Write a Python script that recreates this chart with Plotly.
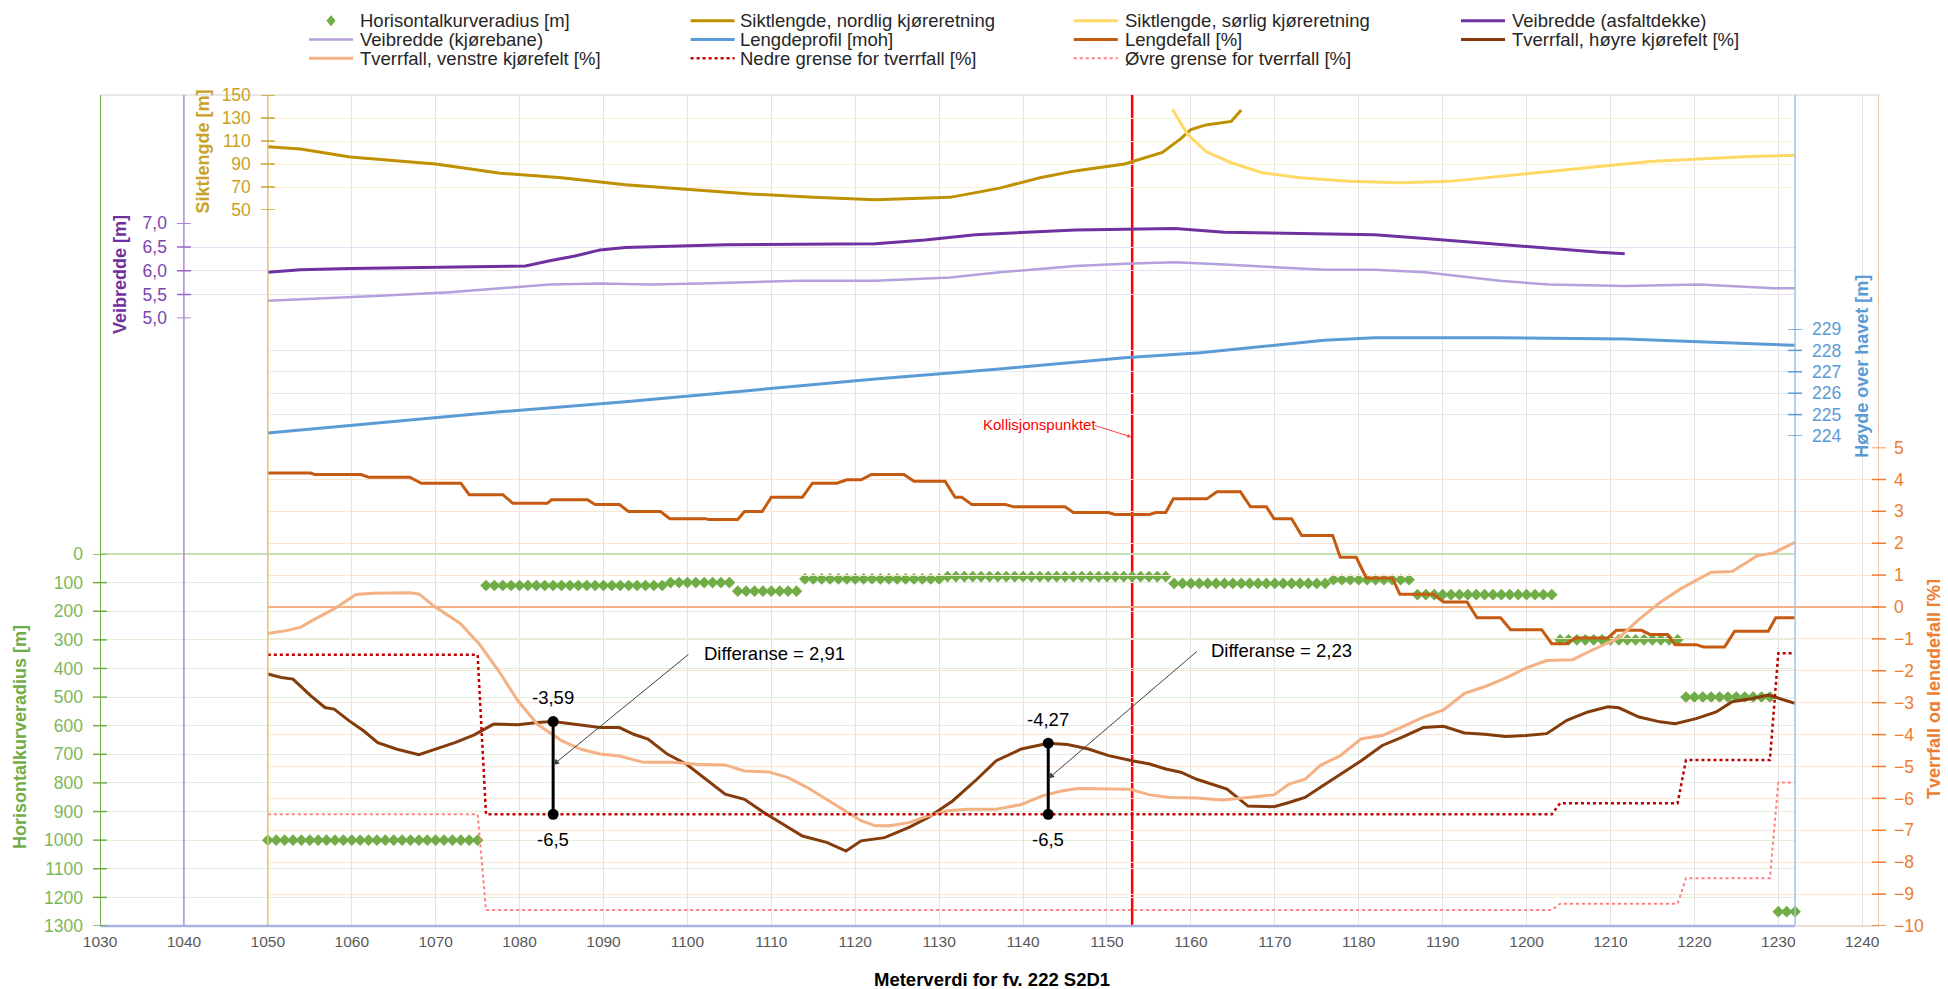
import plotly.graph_objects as go

# ---------------- data ----------------
# Siktlengde (m) - nordlig / sørlig kjøreretning
sikt_n_x = [1050, 1053.9, 1059.8, 1065, 1070, 1077.7, 1085, 1092.6, 1100, 1107.5, 1115, 1122.4, 1131.3, 1137.2, 1142, 1146.2, 1152.1, 1156.6, 1158.8, 1160, 1161.8, 1164.8, 1166]
sikt_n_y = [105, 103, 96, 93, 90, 82, 78, 72, 68, 64, 61, 59, 61, 69, 78, 84, 90, 100, 112, 120, 124, 127, 137]
sikt_s_x = [1157.8, 1159.6, 1161.8, 1164.8, 1168.5, 1173, 1178.9, 1184.9, 1190.8, 1196.8, 1202.7, 1208.7, 1214.7, 1220.6, 1226.6, 1232]
sikt_s_y = [137.5, 115.9, 100.8, 91.1, 82.4, 78.1, 74.9, 73.8, 74.9, 79.2, 83.5, 87.8, 92.2, 94.3, 96.5, 97.6]

# Veibredde (m)
asfalt_x = [1050, 1053.9, 1059.8, 1080.7, 1083.6, 1086.6, 1089.6, 1092.6, 1104.5, 1122.4, 1128.3, 1134.3, 1146.2, 1158.1, 1164, 1181.9, 1187.9, 1196.8, 1202.7, 1208.7, 1211.7]
asfalt_y = [5.97, 6.02, 6.05, 6.10, 6.21, 6.31, 6.44, 6.49, 6.55, 6.57, 6.65, 6.76, 6.86, 6.89, 6.81, 6.76, 6.68, 6.55, 6.47, 6.39, 6.36]
kjorebane_x = [1050, 1056.8, 1062.8, 1071.7, 1077.7, 1083.6, 1089.6, 1095.6, 1101.5, 1107.5, 1113.4, 1122.4, 1131.3, 1137.2, 1146.2, 1152.1, 1158.1, 1164, 1170, 1175.9, 1181.9, 1187.9, 1196.8, 1202.7, 1211.7, 1220.6, 1229.5, 1232]
kjorebane_y = [5.37, 5.42, 5.47, 5.55, 5.63, 5.71, 5.73, 5.71, 5.73, 5.76, 5.79, 5.79, 5.86, 5.97, 6.10, 6.15, 6.18, 6.13, 6.07, 6.02, 6.02, 5.97, 5.79, 5.71, 5.68, 5.71, 5.63, 5.63]

# Lengdeprofil (moh)
profil_x = [1050, 1062.8, 1077.7, 1092.6, 1107.5, 1122.4, 1137.2, 1152.1, 1161.1, 1167, 1175.9, 1181.9, 1196.8, 1211.7, 1219.1, 1226.6, 1232]
profil_y = [224.14, 224.61, 225.13, 225.60, 226.13, 226.66, 227.13, 227.66, 227.89, 228.12, 228.47, 228.59, 228.59, 228.53, 228.42, 228.30, 228.24]

# Lengdefall (%)
lengdefall_x = [1050, 1055.1, 1055.6, 1061.1, 1062, 1066.9, 1068.3, 1073, 1074, 1078, 1079.2, 1083.3, 1083.8, 1088.1,
                1089, 1091.9, 1093, 1096.8, 1097.9, 1102.2, 1102.5, 1106, 1106.8, 1108.9, 1110, 1113.7, 1114.9, 1117.8,
                1119, 1120.7, 1121.9, 1125.8, 1127, 1130.7, 1131.9, 1132.7, 1133.9, 1137.9, 1138.9, 1145, 1146, 1150.2,
                1150.9, 1155.1, 1155.8, 1157, 1157.9, 1161.9, 1163.1, 1165.9, 1167.1, 1169, 1169.9, 1172, 1173.2, 1176.9,
                1177.8, 1179.7, 1180.9, 1184, 1184.9, 1188.9, 1190.1, 1192.9, 1194.1, 1196.9, 1198.1, 1201.8, 1203, 1204.8,
                1205.8, 1209.7, 1210.7, 1213.7, 1214.7, 1216.8, 1217.7, 1220.2, 1221.1, 1223.6, 1224.8, 1228.8, 1229.7, 1232]
lengdefall_y = [4.2, 4.2, 4.15, 4.15, 4.07, 4.07, 3.88, 3.88, 3.52, 3.52, 3.25, 3.25, 3.36, 3.36,
                3.21, 3.21, 2.99, 2.99, 2.77, 2.77, 2.74, 2.74, 2.99, 2.99, 3.44, 3.44, 3.88, 3.88,
                3.99, 3.99, 4.15, 4.15, 3.94, 3.94, 3.44, 3.44, 3.21, 3.21, 3.14, 3.14, 2.96, 2.96,
                2.9, 2.9, 2.96, 2.96, 3.39, 3.39, 3.61, 3.61, 3.14, 3.14, 2.77, 2.77, 2.24, 2.24,
                1.56, 1.56, 0.91, 0.91, 0.4, 0.4, 0.16, 0.16, -0.34, -0.34, -0.71, -0.71, -1.15, -1.15,
                -0.97, -0.97, -0.73, -0.73, -0.86, -0.86, -1.18, -1.18, -1.25, -1.25, -0.76, -0.76, -0.34, -0.34]

# Tverrfall (%)
hoyre_x = [1050, 1051.6, 1053, 1055.1, 1056.8, 1057.9, 1059.7, 1061.4, 1063.1, 1065.4, 1068, 1070, 1072.3, 1074.6,
           1076.9, 1079.8, 1082.1, 1084, 1086.1, 1089.6, 1091.9, 1093.6, 1095.3, 1097.6, 1099.9, 1102.2, 1104.5,
           1106.8, 1109.1, 1111.4, 1113.7, 1116.6, 1118.9, 1120.7, 1123.5, 1126.4, 1128.7, 1131.6, 1134.5, 1136.8,
           1139.8, 1143, 1145.3, 1147.8, 1150.2, 1153, 1155.1, 1157, 1158.8, 1160.7, 1162.5, 1164.3, 1166.8, 1169.9,
           1171.7, 1173.6, 1175.4, 1177.8, 1180.3, 1182.8, 1185.2, 1187.7, 1190.1, 1192.6, 1195, 1197.5, 1199.9,
           1202.4, 1204.8, 1207.3, 1209.7, 1211, 1213.4, 1215.9, 1217.7, 1220.2, 1222.6, 1224.5, 1226.9, 1228.8,
           1230.6, 1232]
hoyre_y = [-2.10, -2.21, -2.26, -2.78, -3.15, -3.20, -3.57, -3.88, -4.25, -4.46, -4.63, -4.46, -4.25, -4.01,
           -3.67, -3.69, -3.62, -3.59, -3.67, -3.78, -3.78, -3.99, -4.14, -4.61, -4.93, -5.40, -5.87,
           -6.03, -6.44, -6.81, -7.18, -7.38, -7.65, -7.33, -7.23, -6.91, -6.60, -6.08, -5.40, -4.82,
           -4.45, -4.27, -4.31, -4.45, -4.66, -4.82, -4.92, -5.08, -5.18, -5.40, -5.55, -5.71, -6.24, -6.26,
           -6.13, -5.97, -5.66, -5.24, -4.82, -4.34, -4.08, -3.78, -3.74, -3.95, -3.99, -4.06, -4.03,
           -3.97, -3.55, -3.29, -3.13, -3.16, -3.45, -3.60, -3.66, -3.50, -3.29, -2.97, -2.87, -2.76,
           -2.92, -3.02]
venstre_x = [1050, 1052.2, 1053.9, 1055.6, 1057.9, 1060.5, 1062.5, 1064.8, 1066.9, 1068, 1070, 1072.9, 1075.2,
             1077.5, 1079.8, 1082.1, 1085, 1087.3, 1089.6, 1091.9, 1094.8, 1098.2, 1101.1, 1104.5, 1106.8, 1109.7,
             1112, 1114.3, 1116.6, 1118.9, 1120.7, 1122.4, 1124.1, 1126.4, 1128.7, 1131, 1133.3, 1136.8, 1139.8,
             1142.3, 1144.7, 1146.6, 1149.6, 1152.7, 1155.1, 1157.6, 1160.7, 1163.7, 1166.8, 1169.9, 1171.7, 1173.6,
             1175.4, 1177.8, 1180.3, 1182.8, 1185.2, 1187.7, 1190.1, 1192.6, 1195, 1197.5, 1199.9, 1202.4, 1205.5,
             1207.9, 1211, 1213.4, 1215.9, 1218.3, 1222, 1224.5, 1227.5, 1229.4, 1232]
venstre_y = [-0.83, -0.74, -0.64, -0.38, -0.06, 0.39, 0.43, 0.44, 0.45, 0.41, -0.01, -0.51, -1.16,
             -2.0, -2.94, -3.67, -4.19, -4.46, -4.61, -4.67, -4.87, -4.87, -4.93, -4.95, -5.14, -5.17,
             -5.35, -5.66, -6.03, -6.39, -6.70, -6.86, -6.86, -6.76, -6.55, -6.39, -6.34, -6.34, -6.19,
             -5.92, -5.76, -5.69, -5.69, -5.71, -5.89, -5.97, -5.99, -6.05, -5.97, -5.89, -5.55, -5.40,
             -4.97, -4.66, -4.13, -4.03, -3.76, -3.45, -3.23, -2.71, -2.50, -2.23, -1.92, -1.68, -1.65,
             -1.34, -0.97, -0.39, 0.14, 0.56, 1.09, 1.11, 1.61, 1.69, 2.03]

# Grenser for tverrfall (%)
grense_x = [1050, 1075, 1076, 1203, 1204, 1218, 1219, 1229, 1230, 1232]
nedre_y = [-1.5, -1.5, -6.5, -6.5, -6.15, -6.15, -4.8, -4.8, -1.45, -1.45]
ovre_y = [-6.5, -6.5, -9.5, -9.5, -9.3, -9.3, -8.5, -8.5, -5.5, -5.5]

# Horisontalkurveradius (m): groups of one value per metre
radius_start = [1050, 1076, 1098, 1106, 1114, 1131, 1158, 1177, 1187, 1204, 1219, 1230]
radius_end = [1075, 1097, 1105, 1113, 1130, 1157, 1176, 1186, 1203, 1218, 1229, 1232]
radius_val = [1000, 110, 100, 130, 87, 79, 103, 90, 142, 300, 500, 1250]

# Differanse markers
diff_x = [1084, 1143]
diff_top = [-3.59, -4.27]
diff_bottom = [-6.5, -6.5]
diff_labels_top = ["-3,59", "-4,27"]
diff_labels_bottom = ["-6,5", "-6,5"]
diff_text = ["Differanse = 2,91", "Differanse = 2,23"]

kollisjon_x = 1153

# axis ticks
x_ticks = list(range(1030, 1241, 10))
radius_ticks = list(range(0, 1301, 100))
veibredde_ticks = [5.0, 5.5, 6.0, 6.5, 7.0]
veibredde_ticktext = ["5,0", "5,5", "6,0", "6,5", "7,0"]
sikt_ticks = [50, 70, 90, 110, 130, 150]
hoyde_ticks = [224, 225, 226, 227, 228, 229]
tverr_ticks = list(range(-10, 6))

# ---------------- layout helpers ----------------
X0, X1, XB = 1030, 1242, 1232
def frac(v):
    return (v - X0) / (X1 - X0)

# screen geometry (page body has an 8 px margin)
PL, PR, PT, PB = 100, 1879, 95, 926
PW, PH = PR - PL, PB - PT
def px(sx):
    return (sx - PL) / PW
def py(sy):
    return (PB - sy) / PH

GREEN = "#70AD47"
PURPLE = "#7030A0"
GOLD = "#BF9000"
BLUE = "#5B9BD5"
ORANGE = "#ED7D31"
FONT = "Liberation Sans, Arial, sans-serif"

series_style = {
    "Horisontalkurveradius [m]": dict(color=GREEN),
    "Siktlengde, nordlig kjøreretning": dict(color=GOLD, width=3),
    "Siktlengde, sørlig kjøreretning": dict(color="#FFD966", width=3),
    "Veibredde (asfaltdekke)": dict(color=PURPLE, width=3),
    "Veibredde (kjørebane)": dict(color="#B4A0DC", width=2.5),
    "Lengdeprofil [moh]": dict(color=BLUE, width=3),
    "Lengdefall [%]": dict(color="#C55A11", width=3),
    "Tverrfall, høyre kjørefelt [%]": dict(color="#843C0C", width=3),
    "Tverrfall, venstre kjørefelt [%]": dict(color="#F4B183", width=3),
    "Nedre grense for tverrfall [%]": dict(color="#C00000", width=2.5, dash="dot"),
    "Øvre grense for tverrfall [%]": dict(color="#FF8080", width=2, dash="dot"),
}
legend_order = list(series_style.keys())

fig = go.Figure()

rx, ry = [], []
for s, e, v in zip(radius_start, radius_end, radius_val):
    for m in range(s, e + 1):
        rx.append(m)
        ry.append(v)
fig.add_trace(go.Scatter(x=rx, y=ry, mode="markers", name=legend_order[0],
                         marker=dict(symbol="diamond", size=9, color=GREEN),
                         xaxis="x2", yaxis="y", cliponaxis=False))
line_traces = [
    (sikt_n_x, sikt_n_y, legend_order[1], "x4", "y3"),
    (sikt_s_x, sikt_s_y, legend_order[2], "x4", "y3"),
    (asfalt_x, asfalt_y, legend_order[3], "x3", "y2"),
    (kjorebane_x, kjorebane_y, legend_order[4], "x3", "y2"),
    (profil_x, profil_y, legend_order[5], "x4", "y4"),
    (lengdefall_x, lengdefall_y, legend_order[6], "x5", "y5"),
    (hoyre_x, hoyre_y, legend_order[7], "x5", "y5"),
    (venstre_x, venstre_y, legend_order[8], "x5", "y5"),
    (grense_x, nedre_y, legend_order[9], "x5", "y5"),
    (grense_x, ovre_y, legend_order[10], "x5", "y5"),
]
for xs, ys, name, xa, ya in line_traces:
    fig.add_trace(go.Scatter(x=xs, y=ys, mode="lines", name=name, line=series_style[name],
                             xaxis=xa, yaxis=ya))

for dx, t, b in zip(diff_x, diff_top, diff_bottom):
    fig.add_trace(go.Scatter(x=[dx, dx], y=[t, b], mode="lines+markers", showlegend=False,
                             line=dict(color="black", width=3), marker=dict(size=11, color="black"),
                             xaxis="x5", yaxis="y5", hoverinfo="skip"))

fig.add_trace(go.Scatter(x=[kollisjon_x, kollisjon_x], y=[0, 1], mode="lines", showlegend=False,
                         line=dict(color="#FF0000", width=2.5), xaxis="x", yaxis="y6", hoverinfo="skip"))

tick_font = lambda c, s=17.5: dict(size=s, color=c, family=FONT)

common_y = dict(showline=False, ticks="", automargin=False, zeroline=False, showgrid=True)
fig.update_layout(
    width=1940, height=981,
    margin=dict(l=PL - 8, r=1948 - PR, t=PT - 8, b=989 - PB),
    paper_bgcolor="white", plot_bgcolor="rgba(0,0,0,0)",
    font=dict(family=FONT, size=16, color="#262626"),
    showlegend=False,
    xaxis=dict(domain=[0, 1], range=[X0, X1], anchor="y6", tickvals=x_ticks, showgrid=True,
               gridcolor="#E4E4E4", zeroline=False, showline=False, ticks="", automargin=False,
               tickfont=tick_font("#595959", 15.5), ticklabelstandoff=4),
    xaxis2=dict(domain=[0, frac(XB)], range=[X0, XB], anchor="y", visible=False),
    xaxis3=dict(domain=[frac(1040), frac(XB)], range=[1040, XB], anchor="y2", visible=False),
    xaxis4=dict(domain=[frac(1050), frac(XB)], range=[1050, XB], anchor="y3", visible=False),
    xaxis5=dict(domain=[frac(1050), 1], range=[1050, X1], anchor="y5", visible=False),
    yaxis=dict(domain=[0, py(554)], range=[1300, 0], anchor="x2", side="left", tickvals=radius_ticks,
               gridcolor="#E2EFDA", ticklabelstandoff=16, tickfont=tick_font("#7CB85A"),
               **{**common_y, "zeroline": True}, zerolinecolor="#C5E0B4", zerolinewidth=1.5),
    yaxis2=dict(domain=[py(318.3), py(223.3)], range=[5, 7], anchor="x3", side="left",
                tickvals=veibredde_ticks, ticktext=veibredde_ticktext, gridcolor="#E8E0F2",
                ticklabelstandoff=16, tickfont=tick_font("#7B45AE"), **common_y),
    yaxis3=dict(domain=[py(210), 1], range=[50, 150], anchor="x4", side="left", tickvals=sikt_ticks,
                gridcolor="#FBF0CF", ticklabelstandoff=16, tickfont=tick_font("#C9A227"), **common_y),
    yaxis4=dict(domain=[py(436), py(329)], range=[224, 229], anchor="x4", side="right", tickvals=hoyde_ticks,
                gridcolor="#DDEBF7", ticklabelstandoff=16, tickfont=tick_font(BLUE), **common_y),
    yaxis5=dict(domain=[0, py(447.5)], range=[-10, 5], anchor="x5", side="right", tickvals=tverr_ticks,
                gridcolor="#FBE5D6", ticklabelstandoff=14, tickfont=tick_font(ORANGE),
                **{**common_y, "zeroline": True}, zerolinecolor="#F4B183", zerolinewidth=1.5),
    yaxis6=dict(domain=[0, 1], range=[0, 1], anchor="x", visible=False),
)

# plot-area top border
fig.add_shape(type="line", xref="paper", yref="paper", x0=0, x1=1, y0=1, y1=1,
              line=dict(color="#E0E0E0", width=1.5), layer="below")
# full-height axis lines
axis_lines = [(X0, "#70AD47", 2), (1040, "#B38BD9", 1.5), (1050, "#E3C46E", 1.5), (XB, "#9DC3E6", 1.5), (X1, "#F4B183", 1.5)]
for xv, col, w in axis_lines:
    fig.add_shape(type="line", xref="x", yref="paper", x0=xv, x1=xv, y0=0, y1=1,
                  line=dict(color=col, width=w), layer="above")
fig.add_shape(type="line", xref="paper", yref="paper", x0=0, x1=frac(XB), y0=0, y1=0,
              line=dict(color="#A9B2E0", width=2.5), layer="above")
fig.add_shape(type="line", xref="paper", yref="paper", x0=frac(XB), x1=1, y0=0, y1=0,
              line=dict(color="#EBDCD2", width=2), layer="above")

# cross tick marks on every value axis
cross = [("y", X0, radius_ticks, "#70AD47"), ("y2", 1040, veibredde_ticks, "#9966CC"),
         ("y3", 1050, sikt_ticks, "#C9A227"), ("y4", XB, hoyde_ticks, BLUE), ("y5", X1, tverr_ticks, ORANGE)]
for yref, xa, vals, col in cross:
    for v in vals:
        fig.add_shape(type="line", xref="paper", xsizemode="pixel", xanchor=frac(xa), x0=-7, x1=7,
                      yref=yref, y0=v, y1=v, line=dict(color=col, width=1.5), layer="above")

ann = []
# axis titles
titles = [
    ("Horisontalkurveradius [m]", GREEN, 19.5, 737.6),
    ("Veibredde [m]", PURPLE, 120, 275),
    ("Siktlengde [m]", "#C9A227", 202.5, 152),
    ("Høyde over havet [m]", BLUE, 1862, 366.7),
    ("Tverrfall og lengdefall [%]", ORANGE, 1934, 689),
]
for txt, col, sx, sy in titles:
    ann.append(dict(x=px(sx), y=py(sy), xref="paper", yref="paper", text=f"<b>{txt}</b>", textangle=-90,
                    xanchor="center", yanchor="middle",
                    showarrow=False, font=dict(size=18, color=col, family=FONT)))
ann.append(dict(x=px(992), y=py(979), xref="paper", yref="paper", text="<b>Meterverdi for fv. 222 S2D1</b>",
                xanchor="center", yanchor="middle",
                showarrow=False, font=dict(size=18.5, color="#000000", family=FONT)))

# custom legend (4 columns x 3 rows)
leg_sym_x = [309, 690.6, 1073.75, 1461]
leg_txt_x = [357.5, 737.5, 1122.5, 1510]
leg_row_y = [20.7, 39.5, 58.3]
for i, name in enumerate(legend_order):
    col, row = i % 4, i // 4
    sy = leg_row_y[row]
    st = series_style[name]
    if "width" in st:
        fig.add_shape(type="line", xref="paper", yref="paper", x0=px(leg_sym_x[col]), x1=px(leg_sym_x[col] + 44),
                      y0=py(sy), y1=py(sy), line=st)
    else:
        cx = leg_sym_x[col] + 22
        fig.add_shape(type="path", xref="paper", yref="paper", xsizemode="pixel", ysizemode="pixel",
                      xanchor=px(cx), yanchor=py(sy), path="M0,5 L4,0 L0,-5 L-4,0 Z",
                      fillcolor=st["color"], line=dict(color=st["color"], width=1))
    ann.append(dict(x=px(leg_txt_x[col]), y=py(sy), xref="paper", yref="paper", text=name, xanchor="left",
                    yanchor="middle", showarrow=False, font=dict(size=18.5, color="#262626", family=FONT)))

# differanse annotations
for dx, t, b, lt, lb, txt, tx, ty, hx, hy in zip(
        diff_x, diff_top, diff_bottom, diff_labels_top, diff_labels_bottom, diff_text,
        [1101.7, 1162.1], [-1.45, -1.35], [1100.3, 1160.9], [-4.95, -5.38]):
    ann.append(dict(x=dx, y=t, xref="x5", yref="y5", text=lt, showarrow=False, yshift=24,
                    xanchor="center", yanchor="middle", font=dict(size=18.5, color="#000000")))
    ann.append(dict(x=dx, y=b, xref="x5", yref="y5", text=lb, showarrow=False, yshift=-25,
                    xanchor="center", yanchor="middle", font=dict(size=18.5, color="#000000")))
    ann.append(dict(x=tx, y=ty, xref="x5", yref="y5", text=txt, showarrow=False, xanchor="left",
                    yanchor="middle", font=dict(size=18.5, color="#000000")))
    ann.append(dict(x=dx, y=hy, xref="x5", yref="y5", ax=hx, ay=ty, axref="x5", ayref="y5", text="",
                    showarrow=True, arrowhead=2, arrowsize=1.2, arrowwidth=1, arrowcolor="#404040"))

ann.append(dict(x=px(1039), y=py(424), xref="paper", yref="paper", text="Kollisjonspunktet", showarrow=False,
                xanchor="center", yanchor="middle", font=dict(size=15, color="#FF0000")))
ann.append(dict(x=kollisjon_x - 0.1, y=py(437), xref="x", yref="paper", ax=-38, ay=-12, text="",
                showarrow=True, arrowhead=2, arrowsize=0.8, arrowwidth=1, arrowcolor="#FF4040"))
fig.update_layout(annotations=ann)

fig.write_html("out.html")
